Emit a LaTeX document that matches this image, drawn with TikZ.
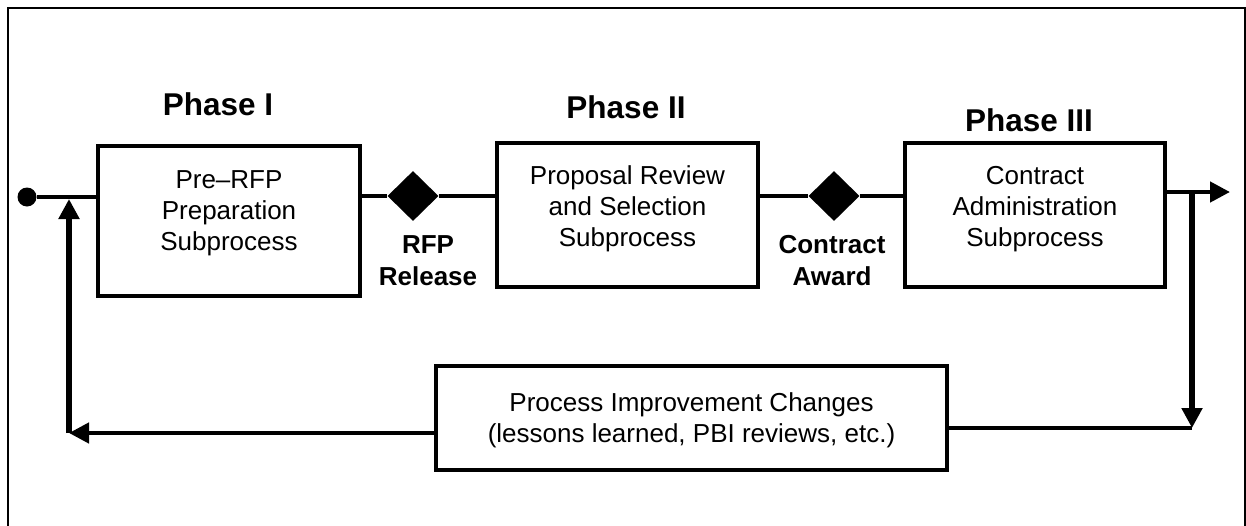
\documentclass[tikz,border=0pt]{standalone}
\usepackage{fontspec}
\setmainfont{Liberation Sans}
\usetikzlibrary{shapes.geometric,arrows.meta}
\begin{document}
\begin{tikzpicture}[x=1pt,y=1pt,
  box/.style={draw,line width=3.5pt,inner sep=0pt},
  txt/.style={align=center,font=\fontsize{26}{31}\selectfont,anchor=base,inner sep=0pt},
  btxt/.style={align=center,font=\fontsize{26}{32}\selectfont\bfseries,anchor=base,inner sep=0pt},
  phase/.style={font=\fontsize{31.5}{36}\selectfont\bfseries,anchor=base,inner sep=0pt},
  dia/.style={diamond,fill=black,inner sep=0pt,minimum width=51pt,minimum height=50pt},
  conn/.style={line width=4.5pt},
  arr/.style={line width=4.5pt,-{Triangle[length=20pt,width=20pt]}},
  varr/.style={line width=5.5pt,-{Triangle[length=20pt,width=20pt]}}]
\useasboundingbox (0,0) rectangle (1246,-525);
% outer frame
\draw[line width=2.5pt] (8,-560) -- (8,-8) -- (1245,-8) -- (1245,-560);
% boxes
\node[box,minimum width=262pt,minimum height=150pt] (b1) at (229,-221) {};
\node[box,minimum width=261pt,minimum height=144pt] (b2) at (627.5,-215) {};
\node[box,minimum width=260pt,minimum height=144pt] (b3) at (1035,-215) {};
\node[box,minimum width=511pt,minimum height=104pt] (b4) at (691.5,-418) {};
% box texts (anchor = baseline of last line)
\node[txt] (t1) at (229,-250) {Pre--RFP\\Preparation\\Subprocess};
\node[txt] (t2) at (627.5,-246) {Proposal Review\\and Selection\\Subprocess};
\node[txt] (t3) at (1035,-246) {Contract\\Administration\\Subprocess};
\node[txt] (t4) at (691.5,-442) {Process Improvement Changes\\(lessons learned, PBI reviews, etc.)};
% phase titles
\node[phase] (p1) at (218,-115) {Phase I};
\node[phase] (p2) at (626,-118) {Phase II};
\node[phase] (p3) at (1029,-131) {Phase III};
% diamonds and their labels
\node[dia] (d1) at (413,-196) {};
\node[dia] (d2) at (834,-196) {};
\node[btxt] (l1) at (428,-285) {RFP\\Release};
\node[btxt] (l2) at (832,-285) {Contract\\Award};
% start dot
\node[circle,fill=black,minimum size=19pt,inner sep=0pt] (dot) at (27,-197) {};
% coordinates
\coordinate (split) at (1192,-192);
\coordinate (out) at (1230,-192);
\coordinate (cr) at (1192,-428);
\coordinate (cl) at (69,-433);
\coordinate (up) at (69,-199);
% main flow
\draw[conn] (dot) -- (dot -| b1.west);
\draw[conn] (b1.east |- d1) -- (d1) -- (d1 -| b2.west);
\draw[conn] (b2.east |- d2) -- (d2) -- (d2 -| b3.west);
\draw[arr] (b3.east |- out) -- (out);
% feedback loop
\draw[varr] (split) -- (cr);
\draw[conn] (b4.east |- cr) -- (cr);
\draw[arr] (b4.west |- cl) -- (cl);
\draw[varr] (cl) -- (up);
\end{tikzpicture}
\end{document}
